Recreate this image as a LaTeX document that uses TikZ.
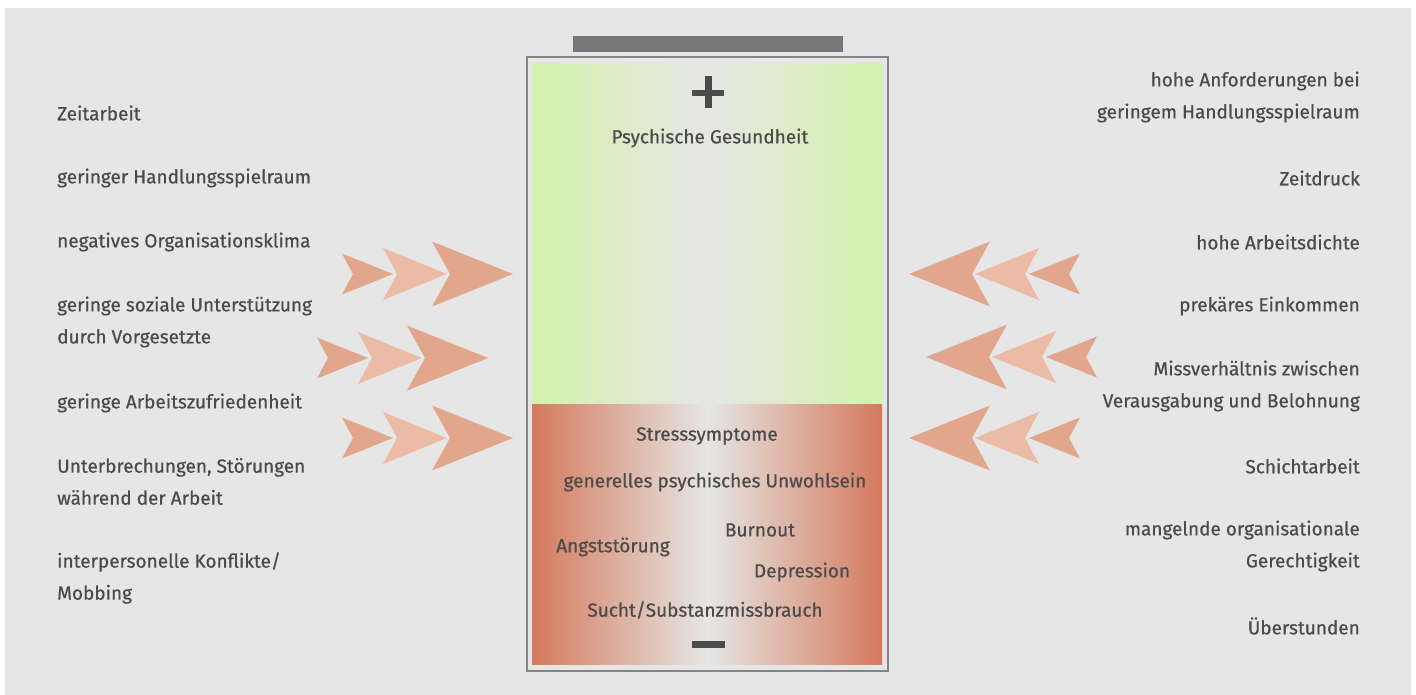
\documentclass[tikz,border=0pt]{standalone}
\usepackage{fontspec}
\setmainfont{Fira Sans}[FakeBold=0.6]
\usetikzlibrary{calc}

\definecolor{bggray}{HTML}{E5E6E5}
\definecolor{txtgray}{HTML}{4B4B4B}
\definecolor{framegray}{HTML}{858585}
\definecolor{capgray}{HTML}{787878}
\definecolor{healthgreen}{HTML}{D3F2AC}
\definecolor{stressred}{HTML}{D47A5D}
\definecolor{midgray}{HTML}{E6E6E4}
\definecolor{chevdark}{HTML}{E2A68C}
\definecolor{chevlight}{HTML}{ECBBA6}

\tikzset{
  lbl/.style={text=txtgray, inner sep=0pt, font=\fontsize{19}{32}\selectfont},
  leftlbl/.style={lbl, anchor=west, align=left},
  rightlbl/.style={lbl, anchor=east, align=right},
  cell/.style={lbl, anchor=center},
  chevrons/.pic={
    \fill[chevdark]  (0,-20.5) -- (51,0) -- (0,20.5) -- (11,0) -- cycle;
    \fill[chevlight] (41,-26) -- (105,0) -- (41,26) -- (55,0) -- cycle;
    \fill[chevdark]  (90,-32.5) -- (171,0) -- (90,32.5) -- (108,0) -- cycle;
  }
}

\begin{document}
\begin{tikzpicture}[x=1pt, y=-1pt]
\useasboundingbox (0,0) rectangle (1416,695);
\fill[bggray] (5,8) rectangle (1411,695);

% battery
\fill[capgray] (573,36) rectangle (843,52);
\shade[left color=healthgreen, right color=healthgreen, middle color=midgray] (532,64) rectangle (882,404);
\shade[left color=stressred, right color=stressred, middle color=midgray] (532,404) rectangle (882,664);
\draw[framegray, line width=2.5] (527,57) rectangle (888,671);
\fill[txtgray] (692,90) rectangle (724,96);
\fill[txtgray] (705,76) rectangle (712,108);
\fill[txtgray] (692,641) rectangle (725,648);

\node[cell] (health) at (710,138) {Psychische Gesundheit};
\node[cell] (stress) at (707,436) {Stresssymptome};
\node[cell] (unwohl) at (715,482) {generelles psychisches Unwohlsein};
\node[cell] (burnout) at (760,530) {Burnout};
\node[cell] (angst) at (613,547) {Angststörung};
\node[cell] (depr) at (802,572) {Depression};
\node[cell] (sucht) at (705,610) {Sucht/Substanzmissbrauch};

% chevrons
\pic at (342,274) {chevrons};
\pic at (317,358) {chevrons};
\pic at (342,438) {chevrons};
\pic[xscale=-1] at (1080,274) {chevrons};
\pic[xscale=-1] at (1097,357) {chevrons};
\pic[xscale=-1] at (1080,438) {chevrons};

% left factors
\node[leftlbl] (zeit) at (57,113) {Zeitarbeit};
\node[leftlbl] (handl) at (57,178) {geringer Handlungsspielraum};
\node[leftlbl] (klima) at (57,242) {negatives Organisationsklima};
\node[leftlbl] (sozial) at (57,322) {geringe soziale Unterstützung\\durch Vorgesetzte};
\node[leftlbl] (zufr) at (57,403) {geringe Arbeitszufriedenheit};
\node[leftlbl] (unterbr) at (57,481.5) {Unterbrechungen, Störungen\\während der Arbeit};
\node[leftlbl] (konfl) at (57,578) {interpersonelle Konflikte/\\Mobbing};

% right factors
\node[rightlbl] (anford) at (1360,97) {hohe Anforderungen bei\\geringem Handlungsspielraum};
\node[rightlbl] (druck) at (1360,178) {Zeitdruck};
\node[rightlbl] (dichte) at (1360,242) {hohe Arbeitsdichte};
\node[rightlbl] (einkommen) at (1360,306) {prekäres Einkommen};
\node[rightlbl] (missv) at (1360,386) {Missverhältnis zwischen\\Verausgabung und Belohnung};
\node[rightlbl] (schicht) at (1360,466) {Schichtarbeit};
\node[rightlbl] (gerecht) at (1360,546) {mangelnde organisationale\\Gerechtigkeit};
\node[rightlbl] (ueber) at (1360,626) {Überstunden};
\end{tikzpicture}
\end{document}
